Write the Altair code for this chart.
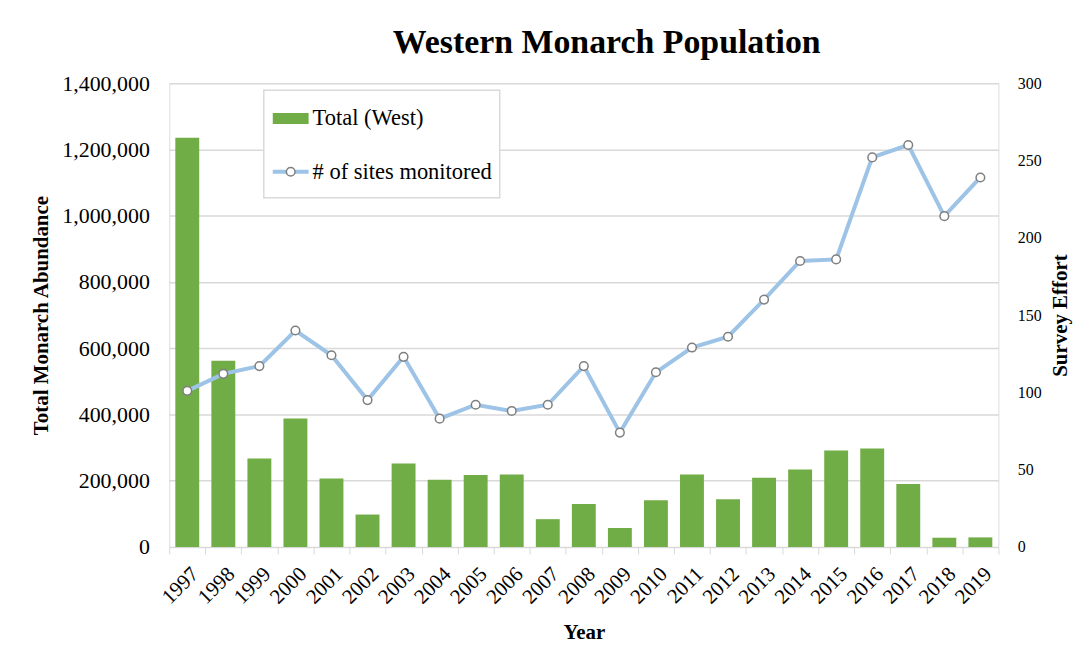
import altair as alt
import pandas as pd

# ---- data ----
years = [str(y) for y in range(1997, 2020)]
total_west = [1235000, 562000, 267000, 388000, 207000, 98000, 252000, 203000,
              217000, 219000, 84000, 130000, 57000, 141000, 219000, 144000,
              209000, 234000, 291000, 297000, 190000, 28000, 29000]
sites = [101, 112, 117, 140, 124, 95, 123, 83, 92, 88, 92, 117, 74, 113,
         129, 136, 160, 185, 186, 252, 260, 214, 239]
left_ticks = [0, 200000, 400000, 600000, 800000, 1000000, 1200000, 1400000]
right_ticks = [0, 50, 100, 150, 200, 250, 300]
legend_labels = ["Total (West)", "# of sites monitored"]

FONT = "Liberation Serif"
GREEN = "#70ad47"
BLUE = "#9dc3e6"
GRID = "#d9d9d9"
W, H = 833, 466

df = pd.DataFrame({"Year": years, "Total": total_west, "Sites": sites})
base = alt.Chart(df)

x_enc = alt.X(
    "Year:N", sort=years, title="Year",
    scale=alt.Scale(paddingInner=0, paddingOuter=0),
    axis=alt.Axis(labelAngle=-45, labelFontSize=21, labelFont=FONT,
                  titleFont=FONT, titleFontSize=21, titleFontWeight="bold",
                  domainColor=GRID, tickColor=GRID, tickSize=7, tickBand="extent",
                  labelColor="black", titleColor="black", labelPadding=9,
                  titlePadding=14, grid=False),
)

bars = base.mark_bar(color=GREEN, width=alt.RelativeBandSize(0.663)).encode(
    x=x_enc,
    y=alt.Y("Total:Q", title="Total Monarch Abundance",
            scale=alt.Scale(domain=[0, 1400000], nice=False),
            axis=alt.Axis(values=left_ticks, format=",.0f", labelFont=FONT,
                          labelFontSize=22, labelColor="black", titleFont=FONT,
                          titleFontSize=21, titleFontWeight="bold",
                          titleColor="black", domain=False, ticks=False,
                          labelPadding=20, titlePadding=10, gridColor=GRID,
                          gridWidth=1.5)),
)

line = base.mark_line(color=BLUE, strokeWidth=4).encode(
    x=alt.X("Year:N", sort=years),
    y=alt.Y("Sites:Q", title="Survey Effort",
            scale=alt.Scale(domain=[0, 300], nice=False),
            axis=alt.Axis(orient="right", values=right_ticks, labelFont=FONT,
                          labelFontSize=16, labelColor="black", titleFont=FONT,
                          titleFontSize=21, titleFontWeight="bold",
                          titleColor="black", titleAngle=270, domain=False,
                          ticks=False, grid=False, labelPadding=19,
                          titlePadding=29)),
)

points = base.mark_point(shape="circle", filled=True, fill="white",
                         stroke="#7f7f7f", strokeWidth=1.5, size=75,
                         opacity=1).encode(
    x=alt.X("Year:N", sort=years),
    y=alt.Y("Sites:Q", scale=alt.Scale(domain=[0, 300], nice=False), axis=None),
)

# ---- legend box (decoration) ----
one = alt.Chart(pd.DataFrame({"k": [0]}))
leg_box = one.mark_rect(fill="white", stroke=GRID, strokeWidth=1.5).encode(
    x=alt.value(95), x2=alt.value(332), y=alt.value(7), y2=alt.value(115))
leg_bar = one.mark_rect(fill=GREEN).encode(
    x=alt.value(104), x2=alt.value(140), y=alt.value(30), y2=alt.value(41))
leg_line = one.mark_rule(color=BLUE, strokeWidth=4).encode(
    x=alt.value(104), x2=alt.value(140), y=alt.value(89))
leg_pt = one.mark_point(shape="circle", filled=True, fill="white",
                        stroke="#7f7f7f", strokeWidth=1.5, size=75,
                        opacity=1).encode(x=alt.value(122), y=alt.value(89))
leg_t1 = one.mark_text(text=legend_labels[0], font=FONT, fontSize=22.6,
                       align="left", baseline="alphabetic", color="black").encode(
    x=alt.value(144), y=alt.value(42))
leg_t2 = one.mark_text(text=legend_labels[1], font=FONT, fontSize=22.6,
                       align="left", baseline="alphabetic", color="black").encode(
    x=alt.value(144), y=alt.value(96))

chart = alt.layer(
    bars, line, points, leg_box, leg_bar, leg_line, leg_pt, leg_t1, leg_t2
).resolve_scale(y="independent").properties(
    width=W, height=H,
    title=alt.TitleParams("Western Monarch Population", font=FONT, fontSize=34,
                          fontWeight="bold", color="black", anchor="middle",
                          dx=23, offset=12),
    autosize=alt.AutoSizeParams(type="none"),
    padding={"left": 162, "top": 74, "right": 85, "bottom": 110},
).configure_view(stroke=None).configure(background="white")

chart.save("out.html", embed_options={"renderer": "svg", "actions": False})
